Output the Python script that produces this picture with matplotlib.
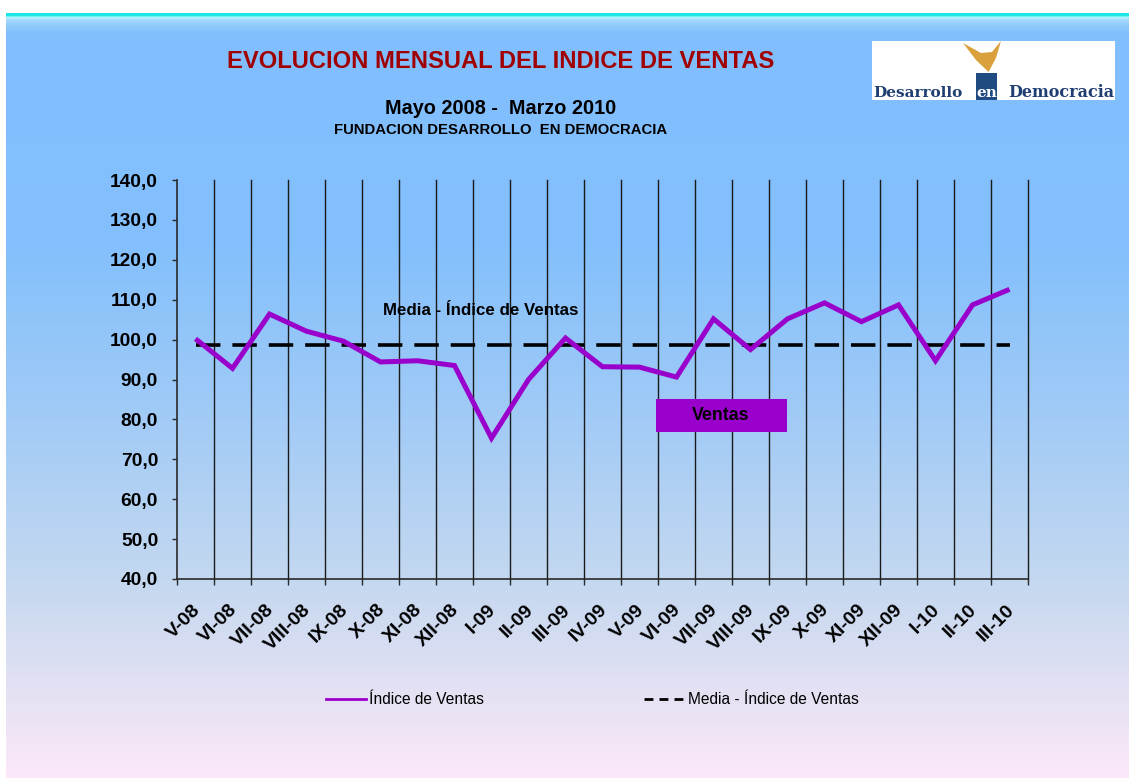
import numpy as np
import matplotlib
matplotlib.use("Agg")
import matplotlib.pyplot as plt
from matplotlib.patches import Rectangle, Polygon
from matplotlib.lines import Line2D
from matplotlib.ticker import FuncFormatter, FixedLocator
from matplotlib.transforms import ScaledTranslation
from matplotlib.colors import to_rgb

# ---------------- data ----------------
meses = ['V-08', 'VI-08', 'VII-08', 'VIII-08', 'IX-08', 'X-08', 'XI-08', 'XII-08',
         'I-09', 'II-09', 'III-09', 'IV-09', 'V-09', 'VI-09', 'VII-09', 'VIII-09',
         'IX-09', 'X-09', 'XI-09', 'XII-09', 'I-10', 'II-10', 'III-10']
indice_ventas = [100.2, 92.8, 106.4, 102.1, 99.6, 94.4, 94.7, 93.5,
                 75.3, 90.0, 100.4, 93.2, 93.1, 90.6, 105.2, 97.5,
                 105.2, 109.2, 104.5, 108.7, 94.7, 108.7, 112.6]
media_valor = 98.7
media_ventas = [media_valor] * len(meses)
y_ticks = [40, 50, 60, 70, 80, 90, 100, 110, 120, 130, 140]

titulo = 'EVOLUCION MENSUAL DEL INDICE DE VENTAS'
subtitulo1 = 'Mayo 2008 -  Marzo 2010'
subtitulo2 = 'FUNDACION DESARROLLO  EN DEMOCRACIA'
serie1 = 'Índice de Ventas'
serie2 = 'Media - Índice de Ventas'

# ---------------- style ----------------
plt.rcParams['font.family'] = ['Liberation Sans', 'DejaVu Sans']
W, H = 1129, 778
PURPLE = '#9900CC'

fig = plt.figure(figsize=(W / 100, H / 100), dpi=100)
fig.patch.set_facecolor('white')


def fx(x):
    return x / W


def fy(y):
    return 1 - y / H


# background gradient
stops = [(13, '#1EE6E6'), (16, '#1EE6E6'), (17, '#B4FAFF'), (20, '#A6D8FF'),
         (26, '#8CCAF8'), (34, '#80BEFF'), (250, '#84C0FC'), (420, '#A2CBF6'),
         (580, '#C4D8F0'), (700, '#E6E2F4'), (778, '#FCE8F8')]
ys = np.arange(13, 778) + 0.5
sy = np.array([s[0] for s in stops], dtype=float)
sc = np.array([to_rgb(s[1]) for s in stops])
grad = np.stack([np.interp(ys, sy, sc[:, k]) for k in range(3)], axis=1)
grad = grad[:, None, :]
bg = fig.add_axes([6 / W, 0, 1 - 6 / W, (H - 13) / H], zorder=-5)
bg.imshow(grad, aspect='auto', extent=[0, 1, 0, 1], interpolation='nearest')
bg.axis('off')

# main axes
ax = fig.add_axes([fx(177), fy(579), fx(1028) - fx(177), fy(180) - fy(579)], zorder=1)
ax.set_facecolor('none')
n = len(meses)
x = np.arange(n)
ax.set_xlim(-0.5, n - 0.5)
ax.set_ylim(40, 140)

# vertical gridlines at category boundaries
for b in np.arange(0.5, n, 1.0):
    ax.axvline(b, color='#1a1a1a', lw=1.0, zorder=1, clip_on=False)

lw_media = 2.6
ax.plot(x, media_ventas, color='black', lw=lw_media,
        ls=(0, (17.6 / lw_media, 8.6 / lw_media)), dash_capstyle='butt', zorder=3)
ax.plot(x, indice_ventas, color=PURPLE, lw=3.6, zorder=4, solid_joinstyle='miter',
        solid_capstyle='butt')

for s in ['top', 'right']:
    ax.spines[s].set_visible(False)
for s in ['left', 'bottom']:
    ax.spines[s].set_color('#2a2a2a')
    ax.spines[s].set_linewidth(1.2)

ax.yaxis.set_major_locator(FixedLocator(y_ticks))
ax.yaxis.set_major_formatter(FuncFormatter(lambda v, p: f'{v:.1f}'.replace('.', ',')))
ax.tick_params(axis='y', direction='out', length=3.6, width=1, color='#2a2a2a',
               labelsize=13.8, pad=10)
for lab in ax.get_yticklabels():
    lab.set_fontweight('bold')

ax.set_xticks(np.arange(-0.5, n, 1.0))
ax.set_xticklabels([])
ax.set_xticks(x, meses, minor=True)
ax.tick_params(axis='x', which='major', direction='out', length=4.3, width=1,
               color='#2a2a2a')
ax.tick_params(axis='x', which='minor', length=0, pad=16, labelsize=14)
off = ScaledTranslation(-0.04, 0, fig.dpi_scale_trans)
for lab in ax.get_xticklabels(minor=True):
    lab.set_rotation(45)
    lab.set_rotation_mode('anchor')
    lab.set_ha('right')
    lab.set_va('top')
    lab.set_fontweight('bold')
    lab.set_transform(lab.get_transform() + off)

# in-plot labels
ax.text(7.7, 107.2, serie2, ha='center', va='center', fontsize=12.2,
        fontweight='bold', zorder=5)
fig.patches.append(Rectangle((fx(656), fy(432)), fx(787) - fx(656), fy(399) - fy(432),
                             transform=fig.transFigure, fc=PURPLE, ec='none', zorder=3))
fig.text(fx(721), fy(416), 'Ventas', ha='center', va='center', fontsize=12.8,
         fontweight='bold', color='black', zorder=6)

# titles
fig.text(fx(501), fy(62), titulo, ha='center', va='center', fontsize=17.1,
         fontweight='bold', color='#A00000')
fig.text(fx(501), fy(109), subtitulo1, ha='center', va='center', fontsize=14.3,
         fontweight='bold', color='black')
fig.text(fx(501), fy(130), subtitulo2, ha='center', va='center', fontsize=10.7,
         fontweight='bold', color='black')

# logo
fig.patches.append(Rectangle((fx(872), fy(100)), fx(1115) - fx(872), fy(41) - fy(100),
                             transform=fig.transFigure, fc='white', ec='none', zorder=2))
fig.patches.append(Rectangle((fx(976), fy(100)), fx(997) - fx(976), fy(73) - fy(100),
                             transform=fig.transFigure, fc='#1F4A82', ec='none', zorder=3))
gold_pts = [(963, 43), (981, 53), (992, 52), (1001, 41), (996, 58),
            (988.5, 72), (976, 60)]
fig.patches.append(Polygon([(fx(a), fy(b)) for a, b in gold_pts], closed=True,
                           transform=fig.transFigure, fc='#D9A03C', ec='none', zorder=3))
fig.text(fx(873), fy(97), 'Desarrollo', ha='left', va='baseline', fontsize=11,
         fontweight='bold', family='DejaVu Serif', color='#1F3F72', zorder=4)
fig.text(fx(986.5), fy(97), 'en', ha='center', va='baseline', fontsize=11,
         fontweight='bold', family='DejaVu Serif', color='white', zorder=4)
fig.text(fx(1114), fy(97), 'Democracia', ha='right', va='baseline', fontsize=11.5,
         fontweight='bold', family='DejaVu Serif', color='#1F3F72', zorder=4)

# legend
h1 = Line2D([], [], color=PURPLE, lw=2.0)
h2 = Line2D([], [], color='black', lw=2.0, ls=(0, (3.2, 2.2)))
leg = fig.legend([h1, h2], [serie1, serie2], loc='center',
                 bbox_to_anchor=(fx(592), fy(700)), ncol=2, frameon=False,
                 fontsize=11.2, handlelength=2.6, handletextpad=0.2,
                 columnspacing=10.3)

fig.savefig('out.png', dpi=100)
